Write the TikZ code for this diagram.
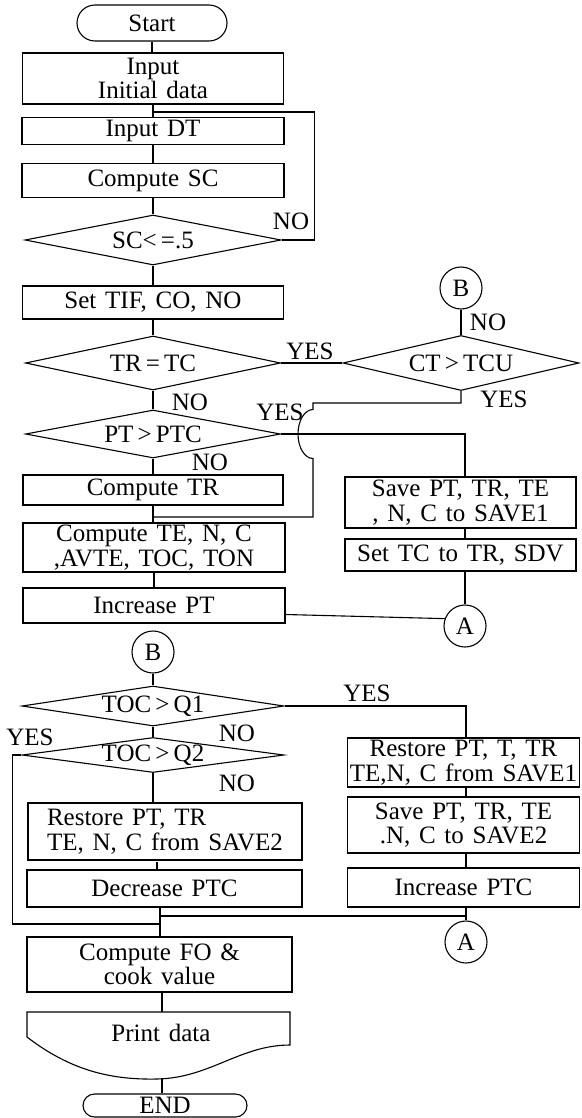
\documentclass[tikz,border=0pt]{standalone}
\usepackage{fontspec}
\setmainfont{Liberation Serif}[WordSpace=1.4]
\usetikzlibrary{shapes.geometric}
\begin{document}
\begin{tikzpicture}[x=1pt,y=-1pt,line width=1.1pt,
  every node/.style={font=\fontsize{25}{24.5}\selectfont,inner sep=1pt},
  procbox/.style={draw,rectangle,align=center},
  dec/.style={draw,diamond,inner sep=0pt},
  term/.style={draw,rectangle},
  conn/.style={draw,circle,minimum size=42pt,inner sep=0pt},
  lbl/.style={inner sep=0pt}]
\useasboundingbox (0,0) rectangle (581,1118);

% ---------- upper part, main column ----------
\node[term,minimum width=150pt,minimum height=36pt,rounded corners=18pt] (start) at (152,23) {Start};
\node[procbox,minimum width=261pt,minimum height=51pt] (init) at (153,78.5) {Input\\Initial data};
\node[procbox,minimum width=262pt,minimum height=27pt] (indt) at (153,131) {Input DT};
\node[procbox,minimum width=262pt,minimum height=34pt] (compsc) at (153,180.5) {Compute SC};
\node[dec,minimum width=256pt,minimum height=50pt,shape aspect=5.12] (sc) at (153,240) {SC<\,=.5};
\node[procbox,minimum width=261pt,minimum height=33pt] (settif) at (153,302.5) {Set TIF, CO, NO};
\node[dec,minimum width=255pt,minimum height=54pt,shape aspect=4.72] (trtc) at (153,363) {TR\,=\,TC};
\node[dec,minimum width=255pt,minimum height=48pt,shape aspect=5.3] (ptptc) at (153,434) {PT\,>\,PTC};
\node[procbox,minimum width=260pt,minimum height=30pt] (comptr) at (153,490) {Compute TR};
\node[procbox,minimum width=262pt,minimum height=49pt] (compte) at (154,547.5) {Compute TE, N, C\\,AVTE, TOC, TON};
\node[procbox,minimum width=262pt,minimum height=35pt] (incpt) at (154,605.5) {Increase PT};

% ---------- upper part, right column ----------
\node[conn] (b1) at (461,288) {B};
\node[dec,minimum width=236pt,minimum height=55pt,shape aspect=4.3] (ct) at (461,363) {CT\,>\,TCU};
\node[procbox,minimum width=231pt,minimum height=51pt] (save1) at (460.5,502.5) {Save PT, TR, TE\\, N, C to SAVE1};
\node[procbox,minimum width=231pt,minimum height=32pt] (settc) at (460.5,555) {Set TC to TR, SDV};
\node[conn] (a1) at (465,626) {A};

% ---------- lower part ----------
\node[conn] (b2) at (153,652) {B};
\node[dec,minimum width=262pt,minimum height=40pt,shape aspect=6.55] (q1) at (153,706) {TOC\,>\,Q1};
\node[dec,minimum width=262pt,minimum height=35pt,shape aspect=7.5] (q2) at (153,755) {TOC\,>\,Q2};
\node[procbox,minimum width=274pt,minimum height=57pt,align=left] (rest2) at (165,831.5) {Restore PT, TR\\TE, N, C from SAVE2};
\node[procbox,minimum width=275pt,minimum height=37pt] (decptc) at (164.5,888.5) {Decrease PTC};
\node[procbox,minimum width=265pt,minimum height=55pt] (compfo) at (159.5,964.5) {Compute FO \&\\cook value};
\node (print) at (161,1033) {Print data};
\coordinate (printtop) at (162,1012);
\coordinate (printbot) at (162,1078);
\draw (27,1012) -- (290,1012) -- (290,1045)
  .. controls (240,1045) and (210,1078) .. (157,1079)
  .. controls (110,1080) and (70,1070) .. (27,1037) -- cycle;
\node[term,minimum width=164pt,minimum height=23pt,rounded corners=11.5pt] (endn) at (165,1105.5) {END};

\node[procbox,minimum width=232pt,minimum height=49pt] (rest1) at (463.5,762.5) {Restore PT, T, TR\\TE,N, C from SAVE1};
\node[procbox,minimum width=232pt,minimum height=56pt] (save2) at (463.5,825) {Save PT, TR, TE\\.N, C to SAVE2};
\node[procbox,minimum width=232pt,minimum height=39pt] (incptc) at (463.5,887.5) {Increase PTC};
\node[conn] (a2) at (466,942) {A};

% ---------- connectors, upper part ----------
\draw (start.south) -- (start.south |- init.north);
\coordinate (j1) at (153,112);
\draw (init.south) -- (indt.north);
\draw (sc.east) -- ++(33,0) |- (j1);
\draw (indt.south) -- (compsc.north);
\draw (compsc.south) -- (sc.north);
\draw (sc.south) -- (settif.north);
\draw (settif.south) -- (trtc.north);
\draw (trtc.south) -- (ptptc.north);
\draw (ptptc.south) -- (comptr.north);
\draw (comptr.south) -- (comptr.south |- compte.north);
\draw (compte.south) -- (incpt.north);
\draw ([yshift=-9pt]incpt.east) -- (a1.160);

\draw (trtc.east) -- (ct.west);
\draw (b1.south) -- (ct.north);
\coordinate (j2) at (153,517);
\draw (ct.south) |- (313,403) -- (313,409.5)
  arc[start angle=90,end angle=270,x radius=15pt,y radius=24.5pt]
  -- (313,517) -- (j2);
\draw (ptptc.east) -| (save1.north -| a1.north);
\draw (save1.south -| a1.north) -- (settc.north -| a1.north);
\draw (settc.south -| a1.north) -- (a1.north);

% ---------- connectors, lower part ----------
\draw (b2.south) -- (q1.north);
\draw (q1.south) -- (q2.north);
\draw (q1.east) -| (rest1.north -| a2.north);
\draw (rest1.south -| a2.north) -- (save2.north -| a2.north);
\draw (save2.south -| a2.north) -- (incptc.north -| a2.north);
\draw (incptc.south -| a2.north) -- (a2.north);
\draw (q2.south) -- (q2.south |- rest2.north);
\draw (157,862) -- (157,870);
\coordinate (j3) at (466,916);
\coordinate (j4) at (160,916);
\coordinate (j5) at (160,924);
\draw (j3) -- (j4);
\draw (q2.west) -- ++(-9,0) |- (j5);
\draw (decptc.south -| j4) -- (compfo.north -| j4);
\draw (compfo.south -| printtop) -- (printtop);
\draw (printbot) -- (printbot |- endn.north);

% ---------- labels ----------
\node[lbl] at (291,221) {NO};
\node[lbl] at (310,351) {YES};
\node[lbl] at (190,402) {NO};
\node[lbl] at (280,412) {YES};
\node[lbl] at (210,462) {NO};
\node[lbl] at (488,322) {NO};
\node[lbl] at (504,399) {YES};
\node[lbl] at (367,693) {YES};
\node[lbl] at (30,737) {YES};
\node[lbl] at (237,733) {NO};
\node[lbl] at (237,783) {NO};
\end{tikzpicture}
\end{document}
